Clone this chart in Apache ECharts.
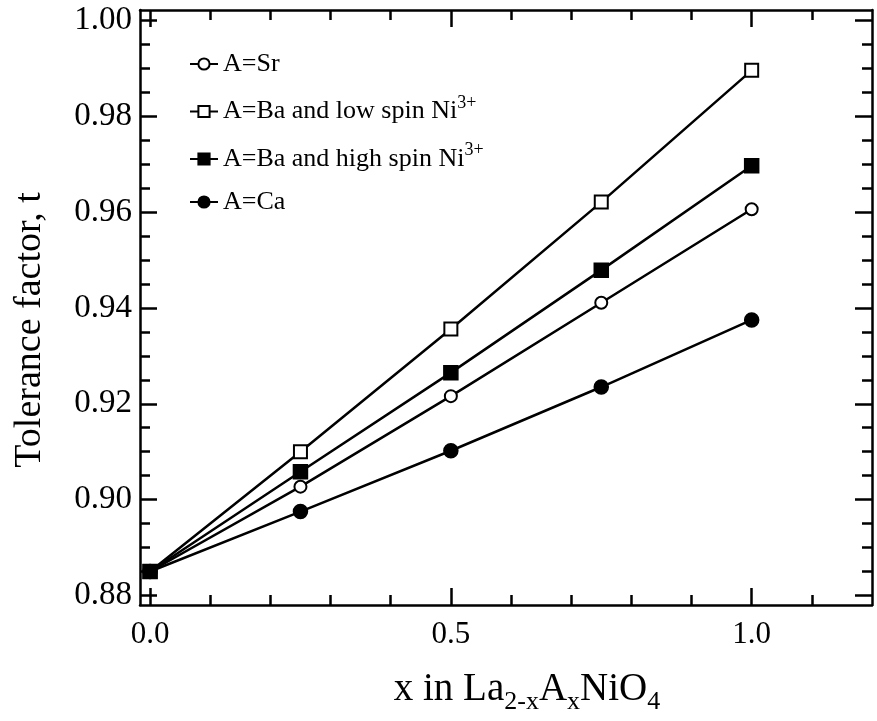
<!DOCTYPE html>
<html>
<head>
<meta charset="utf-8">
<script src="https://cdn.jsdelivr.net/npm/echarts@6/dist/echarts.min.js"></script>
<style>
  html, body { margin: 0; padding: 0; background: #fff; }
  #chart { width: 877px; height: 721px; }
</style>
</head>
<body>
<div id="chart"></div>
<script>
// x values (x in La2-xAxNiO4)
var xs = [0, 0.25, 0.5, 0.75, 1.0];
// tolerance factor
var sr = [0.885, 0.9027, 0.9216, 0.9411, 0.9606];
var baLow = [0.885, 0.9100, 0.9356, 0.9621, 0.9896];
var baHigh = [0.885, 0.9058, 0.9265, 0.9479, 0.9697];
var ca = [0.885, 0.8975, 0.9102, 0.9235, 0.9375];

var xMajor = [0, 0.5, 1.0];
var xMinor = [0.1, 0.2, 0.3, 0.4, 0.6, 0.7, 0.8, 0.9, 1.1];
var yMajor = [0.88, 0.90, 0.92, 0.94, 0.96, 0.98, 1.00];
var yMinor = [0.885, 0.89, 0.895, 0.905, 0.91, 0.915, 0.925, 0.93, 0.935,
              0.945, 0.95, 0.955, 0.965, 0.97, 0.975, 0.985, 0.99, 0.995];

var FONT = '"Liberation Serif", "DejaVu Serif", serif';
var black = '#000';

function pairs(ys) {
  return xs.map(function (x, i) { return [x, ys[i]]; });
}

// one axis = line + ticks on one side; minor ticks get their own axis
function xAx(pos, ticks, len, withLabel) {
  return {
    type: 'value', position: pos, min: -0.0167, max: 1.2,
    axisLine: { show: withLabel !== undefined, onZero: false, lineStyle: { color: black, width: 2.5 } },
    axisTick: { show: true, inside: true, length: len, customValues: ticks, lineStyle: { color: black, width: 2.5 } },
    axisLabel: withLabel ? {
      show: true, customValues: xMajor, margin: 14, color: black, fontSize: 31, fontFamily: FONT,
      formatter: function (v) { return v.toFixed(1); }
    } : { show: false },
    splitLine: { show: false }
  };
}
function yAx(pos, ticks, len, withLabel) {
  return {
    type: 'value', position: pos, min: 0.878, max: 1.0022,
    axisLine: { show: withLabel !== undefined, onZero: false, lineStyle: { color: black, width: 2.5 } },
    axisTick: { show: true, inside: true, length: len, customValues: ticks, lineStyle: { color: black, width: 2.5 } },
    axisLabel: withLabel ? {
      show: true, customValues: yMajor, margin: 8, color: black, fontSize: 33, fontFamily: FONT,
      formatter: function (v) { return v.toFixed(2); }
    } : { show: false },
    splitLine: { show: false }
  };
}

function line(name, data, symbol, size) {
  return {
    name: name, type: 'line', data: pairs(data),
    symbol: symbol, symbolSize: size,
    lineStyle: { color: black, width: 2.5 },
    itemStyle: { color: black, borderColor: black, borderWidth: 1.5 },
    emphasis: { disabled: true },
    animation: false
  };
}

var names = ['A=Sr', 'A=Ba and low spin Ni3+', 'A=Ba and high spin Ni3+', 'A=Ca'];

var chart = echarts.init(document.getElementById('chart'));
chart.setOption({
  backgroundColor: '#fff',
  animation: false,
  grid: { left: 140, right: 5, top: 10, bottom: 116 },
  xAxis: [
    xAx('bottom', xMajor, 17, true),
    xAx('bottom', xMinor, 10),
    xAx('top', xMajor, 17, false),
    xAx('top', xMinor, 10)
  ],
  yAxis: [
    yAx('left', yMajor, 17, true),
    yAx('left', yMinor, 10),
    yAx('right', yMajor, 17, false),
    yAx('right', yMinor, 10)
  ],
  legend: {
    orient: 'vertical', left: 184, top: 46,
    itemWidth: 28, itemHeight: 14, itemGap: 17,
    data: names,
    textStyle: {
      color: black, fontSize: 26, fontFamily: FONT,
      rich: {
        a: { fontSize: 26, fontFamily: FONT, color: black },
        p: { fontSize: 18, fontFamily: FONT, color: black, padding: [0, 0, 17, 0] }
      }
    },
    formatter: function (n) {
      if (n.indexOf('Ni3+') > 0) return '{a|' + n.replace('Ni3+', 'Ni') + '}{p|3+}';
      return '{a|' + n + '}';
    }
  },
  graphic: [
    {
      type: 'text', x: 30, y: 330, rotation: Math.PI / 2,
      style: {
        text: 'Tolerance factor, t', fill: black,
        font: '38px "Liberation Serif", serif',
        align: 'center', verticalAlign: 'middle'
      }
    },
    {
      type: 'text', x: 527, y: 690,
      style: {
        text: '{n|x in La}{s|2-x}{n|A}{s|x}{n|NiO}{s|4}',
        align: 'center', verticalAlign: 'middle',
        rich: {
          n: { fontSize: 39, fontFamily: FONT, fill: black },
          s: { fontSize: 26, fontFamily: FONT, fill: black, padding: [24, 0, 0, 0] }
        }
      }
    }
  ],
  series: [
    line(names[0], sr, 'emptyCircle', 12),
    line(names[1], baLow, 'emptyRect', 13),
    line(names[2], baHigh, 'rect', 14),
    line(names[3], ca, 'circle', 14)
  ]
});
</script>
</body>
</html>
